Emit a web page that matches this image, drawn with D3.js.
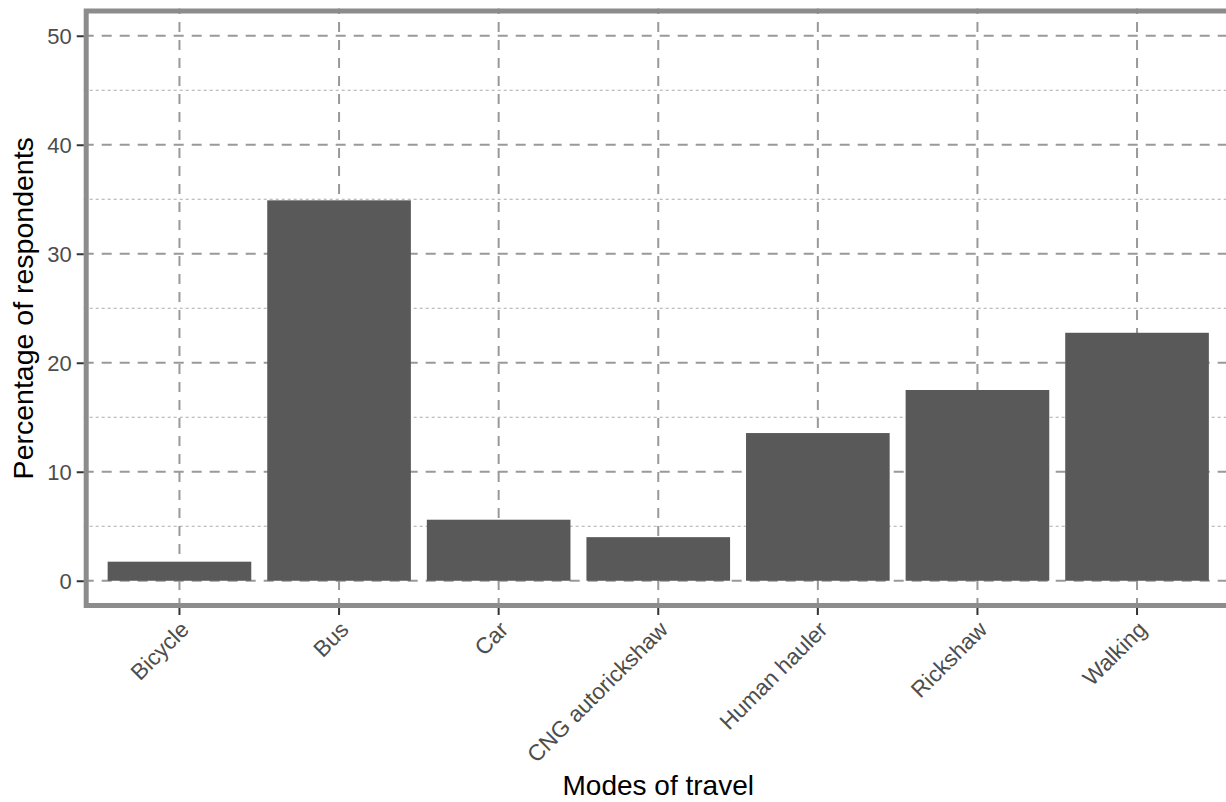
<!DOCTYPE html>
<html>
<head>
<meta charset="utf-8">
<script src="https://cdn.jsdelivr.net/npm/d3@7"></script>
<style>
  body { margin: 0; background: #fff; }
  svg { display: block; font-family: "Liberation Sans", Arial, sans-serif; }
</style>
</head>
<body>
<div class="chart-container"></div>
<script>
// --- Data ---
const modes = ["Bicycle", "Bus", "Car", "CNG autorickshaw", "Human hauler", "Rickshaw", "Walking"];
const percentages = [1.75, 34.9, 5.6, 4.0, 13.55, 17.5, 22.75];
const yTicks = [0, 10, 20, 30, 40, 50];
const yMinorTicks = [5, 15, 25, 35, 45];

// --- Layout ---
const W = 1226, H = 802;
const panel = { left: 83.7, right: 1232.8, top: 8.5, bottom: 608 };

const svg = d3.select(".chart-container").append("svg")
    .attr("width", W)
    .attr("height", H);

// ggplot-like discrete scale: 0.6 expansion each side, bars 0.9 wide
const xScale = d3.scaleBand()
    .domain(modes)
    .range([panel.left, panel.right])
    .paddingInner(0.1)
    .paddingOuter(0.15);

// continuous scale 0..50 with 5% expansion
const yScale = d3.scaleLinear()
    .domain([-2.5, 52.5])
    .range([panel.bottom, panel.top]);

const xCenter = d => xScale(d) + xScale.bandwidth() / 2;

// --- Grid lines ---
const grid = svg.append("g");

grid.selectAll(".minor-y")
    .data(yMinorTicks)
    .enter().append("line")
    .attr("x1", panel.left).attr("x2", panel.right)
    .attr("y1", d => yScale(d)).attr("y2", d => yScale(d))
    .attr("stroke", "#ababab")
    .attr("stroke-width", 1)
    .attr("stroke-dasharray", "3,3");

grid.selectAll(".major-y")
    .data(yTicks)
    .enter().append("line")
    .attr("x1", panel.left).attr("x2", panel.right)
    .attr("y1", d => yScale(d)).attr("y2", d => yScale(d))
    .attr("stroke", "#999")
    .attr("stroke-width", 2)
    .attr("stroke-dasharray", "10,8");

grid.selectAll(".major-x")
    .data(modes)
    .enter().append("line")
    .attr("x1", xCenter).attr("x2", xCenter)
    .attr("y1", panel.bottom).attr("y2", panel.top)
    .attr("stroke", "#999")
    .attr("stroke-width", 2)
    .attr("stroke-dasharray", "10,8");

// --- Bars ---
svg.append("g").selectAll("rect")
    .data(modes)
    .enter().append("rect")
    .attr("x", d => xScale(d))
    .attr("width", xScale.bandwidth())
    .attr("y", (d, i) => yScale(percentages[i]))
    .attr("height", (d, i) => yScale(0) - yScale(percentages[i]))
    .attr("fill", "#595959");

// --- Panel border (drawn inside the panel) ---
svg.append("rect")
    .attr("x", panel.left + 2.5)
    .attr("y", panel.top + 2.5)
    .attr("width", panel.right - panel.left - 5)
    .attr("height", panel.bottom - panel.top - 5)
    .attr("fill", "none")
    .attr("stroke", "#8c8c8c")
    .attr("stroke-width", 5);

// --- Axes ---
const yAxis = svg.append("g")
    .attr("transform", `translate(${panel.left}, 0)`)
    .call(d3.axisLeft(yScale).tickValues(yTicks).tickSize(7).tickPadding(5));

yAxis.select(".domain").remove();
yAxis.selectAll(".tick line").attr("stroke", "#333").attr("stroke-width", 2);
yAxis.selectAll(".tick text")
    .attr("fill", "#4d4d4d")
    .style("font-size", "22px")
    .attr("dy", "0.35em");

const xAxis = svg.append("g")
    .attr("transform", `translate(0, ${panel.bottom})`)
    .call(d3.axisBottom(xScale).tickSize(7));

xAxis.select(".domain").remove();
xAxis.selectAll(".tick line").attr("stroke", "#333").attr("stroke-width", 2);
xAxis.selectAll(".tick text")
    .attr("fill", "#4d4d4d")
    .style("font-size", "22.5px")
    .attr("text-anchor", "end")
    .attr("x", 0).attr("y", 0).attr("dy", 0)
    .attr("transform", "translate(11, 23) rotate(-45)");

// --- Axis titles ---
svg.append("text")
    .attr("x", (panel.left + panel.right) / 2)
    .attr("y", 795)
    .attr("text-anchor", "middle")
    .style("font-size", "28px")
    .attr("fill", "#000")
    .text("Modes of travel");

svg.append("text")
    .attr("transform", `translate(33, ${(panel.top + panel.bottom) / 2}) rotate(-90)`)
    .attr("text-anchor", "middle")
    .style("font-size", "28.5px")
    .attr("fill", "#000")
    .text("Percentage of respondents");
</script>
</body>
</html>
